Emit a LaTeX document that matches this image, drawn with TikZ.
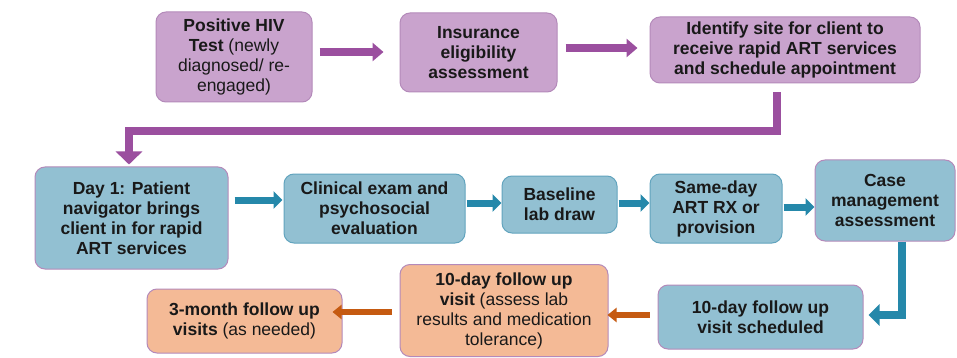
\documentclass[tikz,border=0pt]{standalone}
\usepackage{fontspec}
\setmainfont{Liberation Sans}
\usetikzlibrary{arrows.meta}
\definecolor{pfill}{RGB}{201,163,205}
\definecolor{pborder}{RGB}{180,138,186}
\definecolor{parrowc}{RGB}{155,79,159}
\definecolor{bfill}{RGB}{146,192,210}
\definecolor{bborder}{RGB}{98,164,190}
\definecolor{barrowc}{RGB}{37,136,170}
\definecolor{ofill}{RGB}{244,186,150}
\definecolor{oarrowc}{RGB}{197,90,17}
\begin{document}
\begin{tikzpicture}[x=1pt,y=-1pt,
  box/.style={draw, rounded corners=10pt, line width=1pt, align=center, inner sep=0pt,
    font=\fontsize{17.5}{20}\selectfont, text=black!90},
  pbox/.style={box, fill=pfill, draw=pborder},
  bbox/.style={box, fill=bfill, draw=bborder},
  bpbox/.style={box, fill=bfill, draw=pborder},
  obox/.style={box, fill=ofill, draw=pborder},
  parrow/.style={draw=parrowc, line width=8pt, -{Triangle[width=18pt,length=11pt]}},
  pelbow/.style={draw=parrowc, line width=8pt, -{Triangle[width=26pt,length=13pt]}},
  barrow/.style={draw=barrowc, line width=7pt, -{Triangle[width=17pt,length=9pt]}},
  belbow/.style={draw=barrowc, line width=8pt, -{Triangle[width=21pt,length=11pt]}},
  oarrow/.style={draw=oarrowc, line width=6pt, -{Triangle[width=14pt,length=9pt]}}]
\useasboundingbox (0,0) rectangle (957,358);
\fill[white] (0,0) rectangle (957,358);

% top row
\node[pbox, minimum width=156pt, minimum height=90pt] (hiv) at (234,57)
  {\textbf{Positive HIV}\\\textbf{Test} (newly\\diagnosed/ re-\\engaged)};
\node[pbox, minimum width=157pt, minimum height=79pt] (ins) at (478.5,52.5)
  {\textbf{Insurance}\\\textbf{eligibility}\\\textbf{assessment}};
\node[pbox, minimum width=270pt, minimum height=66pt] (ident) at (785,50)
  {\textbf{Identify site for client to}\\\textbf{receive rapid ART services}\\\textbf{and schedule appointment}};

% middle row
\node[bpbox, minimum width=193pt, minimum height=102pt] (day1) at (131.5,218)
  {\textbf{Day 1: Patient}\\\textbf{navigator brings}\\\textbf{client in for rapid}\\\textbf{ART services}};
\node[bbox, minimum width=181pt, minimum height=69pt] (clin) at (374.5,208.5)
  {\textbf{Clinical exam and}\\\textbf{psychosocial}\\\textbf{evaluation}};
\node[bbox, minimum width=115pt, minimum height=57pt] (base) at (559.5,204.5)
  {\textbf{Baseline}\\\textbf{lab draw}};
\node[bbox, minimum width=132pt, minimum height=69pt] (same) at (716,208.5)
  {\textbf{Same-day}\\\textbf{ART RX or}\\\textbf{provision}};
\node[bpbox, minimum width=140pt, minimum height=81pt] (case) at (885,200.5)
  {\textbf{Case}\\\textbf{management}\\\textbf{assessment}};

% bottom row
\node[bpbox, minimum width=205pt, minimum height=64pt] (sched) at (760.5,317)
  {\textbf{10-day follow up}\\\textbf{visit scheduled}};
\node[obox, minimum width=208pt, minimum height=92pt] (visit) at (504,310.5)
  {\textbf{10-day follow up}\\\textbf{visit} (assess lab\\results and medication\\tolerance)};
\node[obox, minimum width=195pt, minimum height=64pt] (month) at (244.5,321)
  {\textbf{3-month follow up}\\\textbf{visits} (as needed)};

% connectors
\draw[parrow] ([xshift=7pt]hiv.east |- 0,52) -- ([xshift=-16pt]ins.west |- 0,52);
\draw[parrow] ([xshift=8pt]ins.east |- 0,48) -- ([xshift=-12pt]ident.west |- 0,48);
\draw[pelbow] (777,0 |- ident.south) ++(0,9) |- (129,131) -- ([yshift=2pt]day1.north -| 129,0);

\draw[barrow] ([xshift=6pt]day1.east |- 0,200) -- ([xshift=-1pt]clin.west |- 0,200);
\draw[barrow] ([xshift=1pt]clin.east |- 0,203) -- (base.west |- 0,203);
\draw[barrow] ([xshift=1pt]base.east |- 0,203) -- (same.west |- 0,203);
\draw[barrow] ([xshift=1pt]same.east |- 0,207) -- (case.west |- 0,207);
\draw[belbow] (case.south -| 902,0) |- ([xshift=5pt]sched.east |- 0,315);

\draw[oarrow] ([xshift=-8pt]sched.west |- 0,315) -- ([xshift=-1pt]visit.east |- 0,315);
\draw[oarrow] ([xshift=-8pt]visit.west |- 0,312) -- ([xshift=-10pt]month.east |- 0,312);
\end{tikzpicture}
\end{document}
